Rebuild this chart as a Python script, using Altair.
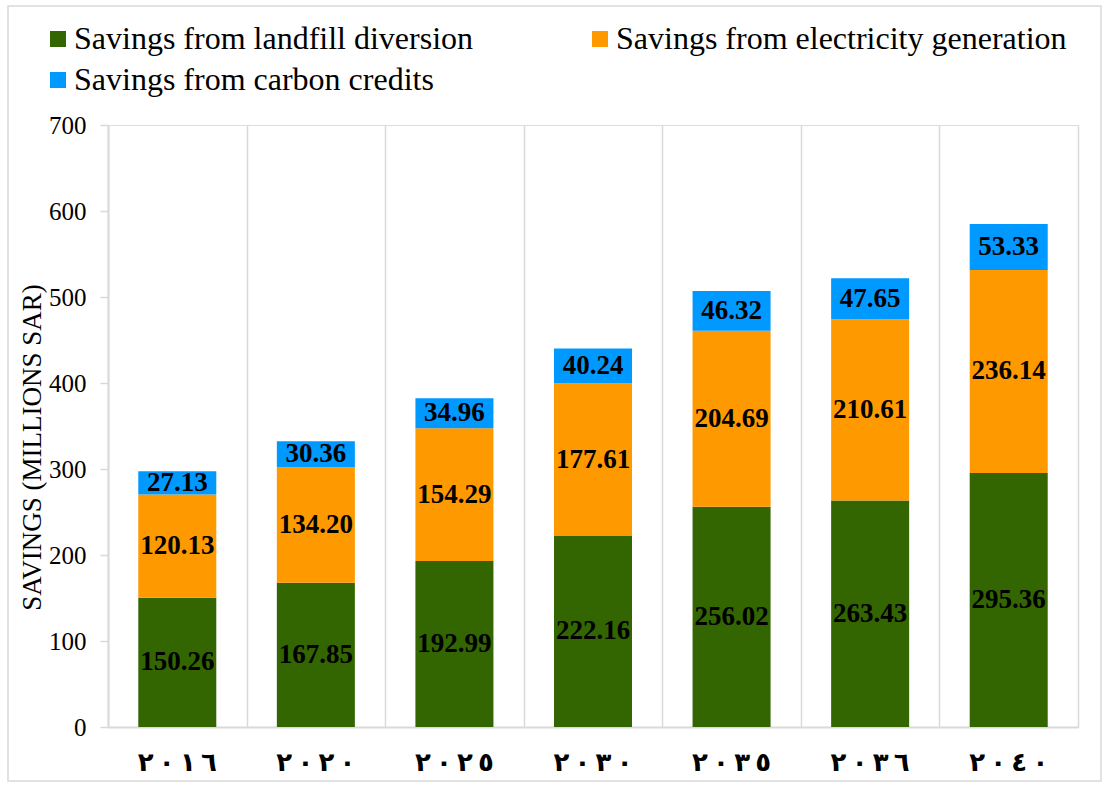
import altair as alt
import pandas as pd

years = ["٢٠١٦", "٢٠٢٠", "٢٠٢٥", "٢٠٣٠", "٢٠٣٥", "٢٠٣٦", "٢٠٤٠"]
series = [
    "Savings from landfill diversion",
    "Savings from electricity generation",
    "Savings from carbon credits",
]
landfill = [150.26, 167.85, 192.99, 222.16, 256.02, 263.43, 295.36]
electricity = [120.13, 134.20, 154.29, 177.61, 204.69, 210.61, 236.14]
carbon = [27.13, 30.36, 34.96, 40.24, 46.32, 47.65, 53.33]
colors = ["#336600", "#FF9900", "#0099FF"]
y_ticks = [0, 100, 200, 300, 400, 500, 600, 700]

rows = []
for i, yr in enumerate(years):
    for k, (s, vals) in enumerate(zip(series, [landfill, electricity, carbon])):
        rows.append({"year": yr, "series": s, "idx": k, "value": vals[i]})
df = pd.DataFrame(rows)

# legend is laid out column by column: order entries so the grid reads like the reference
legend_order = [series[0], series[2], series[1]]
legend_colors = [colors[0], colors[2], colors[1]]

W, H = 970, 602
GRID = "#d9d9d9"
SERIF = "Liberation Serif"
SEP = "\u200e\u2009"

grid_layer = (
    alt.Chart(df)
    .mark_bar(opacity=0)
    .encode(
        x=alt.X(
            "year:N",
            sort=years,
            scale=alt.Scale(paddingInner=0, paddingOuter=0),
            axis=alt.Axis(
                orient="top",
                title=None,
                labels=False,
                ticks=False,
                domain=False,
                grid=True,
                tickBand="extent",
                gridColor=GRID,
                gridWidth=1.5,
            ),
        )
    )
)

x_enc = alt.X(
    "year:N",
    sort=years,
    scale=alt.Scale(paddingInner=0.437, paddingOuter=0.2185),
    axis=alt.Axis(
        orient="bottom",
        title=None,
        labelAngle=0,
        grid=False,
        domainColor=GRID,
        domainWidth=2,
        ticks=False,
        labelFont="DejaVu Sans",
        labelFontWeight="bold",
        labelFontSize=26,
        labelColor="black",
        labelPadding=22,
        labelExpr="join(split(datum.label, ''), '" + SEP + "')",
    ),
)

bars = alt.Chart(df).mark_bar().encode(
    x=x_enc,
    y=alt.Y(
        "value:Q",
        stack="zero",
        scale=alt.Scale(domain=[0, 700], nice=False),
        axis=alt.Axis(
            values=y_ticks,
            grid=False,
            title="SAVINGS (MILLIONS SAR)",
            titleFont=SERIF,
            titleFontSize=27,
            titleFontWeight="normal",
            titleColor="black",
            titlePadding=2,
            titleY=322,
            labelFont=SERIF,
            labelFontSize=25,
            labelColor="black",
            labelPadding=14,
            tickColor=GRID,
            tickSize=8,
            tickWidth=1.5,
            domainColor=GRID,
            domainWidth=2,
        ),
    ),
    color=alt.Color(
        "series:N",
        scale=alt.Scale(domain=legend_order, range=legend_colors),
        legend=alt.Legend(
            title=None,
            orient="none",
            legendX=-66,
            legendY=-102,
            columns=2,
            columnPadding=110,
            rowPadding=9,
            symbolType="square",
            symbolSize=256,
            symbolStrokeWidth=0,
            labelFont=SERIF,
            labelFontSize=32,
            labelColor="black",
            labelLimit=0,
            labelOffset=0,
            padding=0,
        ),
    ),
    order=alt.Order("idx:Q", sort="ascending"),
)

labels = (
    alt.Chart(df)
    .transform_window(
        cum="sum(value)",
        groupby=["year"],
        sort=[alt.SortField("idx")],
        frame=[None, 0],
    )
    .transform_calculate(mid="datum.cum - datum.value / 2")
    .mark_text(font=SERIF, fontSize=27, fontWeight="bold", color="black", baseline="middle")
    .encode(
        x=alt.X("year:N", sort=years),
        y=alt.Y("mid:Q"),
        text=alt.Text("value:Q", format=".2f"),
    )
)

border = (
    alt.Chart(pd.DataFrame({"a": [0]}))
    .mark_rect(fill=None, stroke=GRID, strokeWidth=1.5)
    .encode(
        x=alt.value(-100),
        x2=alt.value(993),
        y=alt.value(-119),
        y2=alt.value(656),
    )
)

main = alt.layer(bars, labels)

chart = (
    alt.layer(border, grid_layer, main)
    .resolve_scale(x="independent")
    .properties(
        width=W,
        height=H,
        padding={"left": 108, "top": 125, "right": 29, "bottom": 58},
        autosize=alt.AutoSizeParams(type="none"),
    )
    .configure_view(stroke=None)
    .configure_axis(labelFont=SERIF, titleFont=SERIF)
    .configure(background="white")
)

chart.save("out.html", embed_options={"renderer": "svg", "actions": False})
